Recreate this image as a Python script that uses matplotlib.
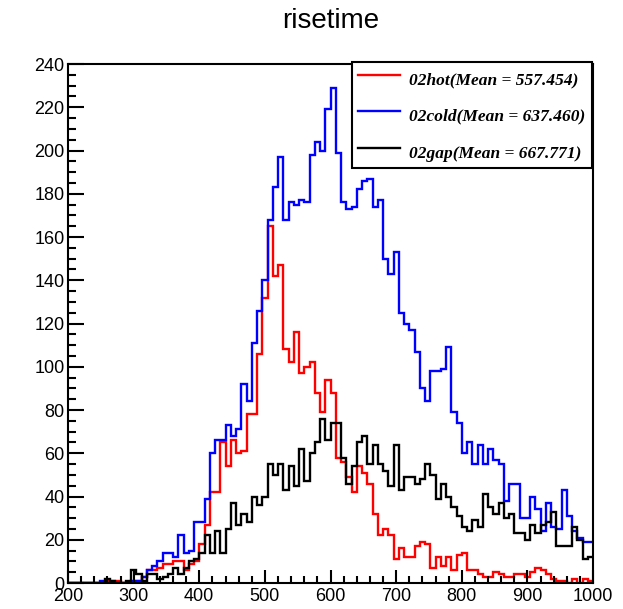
import numpy as np
import matplotlib
matplotlib.use("Agg")
import matplotlib.pyplot as plt
from matplotlib.ticker import MultipleLocator

# risetime histograms: 100 bins from 200 to 1000
bin_low, bin_high, n_bins = 200, 1000, 100

hot_counts = [
    0, 0, 0, 0, 0, 0, 0, 1, 1, 1,
    0, 0, 1, 1, 3, 6, 6, 7, 9, 9,
    10, 10, 6, 9, 10, 18, 27, 42, 42, 65,
    54, 66, 60, 61, 78, 78, 106, 132, 165, 142,
    147, 108, 102, 116, 97, 100, 102, 88, 79, 94,
    88, 58, 56, 49, 42, 54, 51, 46, 32, 22,
    25, 22, 11, 16, 12, 12, 17, 19, 18, 7,
    12, 8, 12, 6, 13, 14, 6, 6, 4, 3,
    3, 5, 4, 3, 3, 4, 4, 3, 5, 7,
    6, 4, 2, 1, 1, 0, 2, 0, 2, 1,
]

cold_counts = [
    0, 0, 0, 0, 0, 0, 1, 0, 0, 0,
    0, 0, 1, 1, 3, 6, 8, 10, 14, 14,
    12, 22, 14, 15, 28, 28, 39, 60, 66, 66,
    73, 68, 71, 92, 84, 111, 126, 140, 168, 183,
    197, 168, 176, 175, 177, 176, 198, 204, 200, 219,
    229, 199, 176, 173, 174, 182, 186, 187, 174, 177,
    150, 143, 153, 125, 120, 117, 107, 90, 84, 98,
    98, 99, 109, 79, 74, 60, 65, 55, 64, 55,
    62, 57, 55, 38, 46, 46, 30, 30, 40, 34,
    24, 37, 26, 25, 43, 31, 24, 21, 19, 19,
]

gap_counts = [
    0, 0, 0, 0, 0, 0, 0, 2, 1, 0,
    0, 1, 6, 4, 1, 4, 4, 2, 3, 4,
    7, 4, 7, 10, 11, 14, 22, 14, 24, 14,
    25, 37, 27, 32, 28, 40, 36, 40, 55, 50,
    55, 43, 54, 45, 62, 47, 60, 65, 76, 66,
    74, 74, 58, 46, 54, 65, 68, 55, 64, 55,
    52, 45, 64, 43, 49, 49, 46, 48, 55, 50,
    39, 46, 40, 35, 31, 26, 24, 29, 26, 41,
    35, 32, 37, 30, 32, 23, 23, 20, 27, 23,
    27, 28, 33, 17, 17, 17, 26, 20, 11, 12,
]

series_names = ["02hot", "02cold", "02gap"]
series_means = [557.454, 637.460, 667.771]
series_colors = ["#ff0000", "#0000ff", "#000000"]

x_ticks = [200, 300, 400, 500, 600, 700, 800, 900, 1000]
y_ticks = [0, 20, 40, 60, 80, 100, 120, 140, 160, 180, 200, 220, 240]

edges = np.linspace(bin_low, bin_high, n_bins + 1)

W, H, DPI = 623, 609, 100
fig = plt.figure(figsize=(W / DPI, H / DPI), dpi=DPI)
fig.patch.set_facecolor("white")

ax_l, ax_r, ax_t, ax_b = 68, 593, 64, 583
ax = fig.add_axes([ax_l / W, 1 - ax_b / H, (ax_r - ax_l) / W, (ax_b - ax_t) / H])

for counts, name, mean, color in zip(
        [hot_counts, cold_counts, gap_counts], series_names, series_means, series_colors):
    ax.stairs(counts, edges, baseline=None, color=color, linewidth=1.7,
              label=f"{name}(Mean = {mean:.3f})")

ax.set_xlim(bin_low, bin_high)
ax.set_ylim(0, 240)
ax.set_xticks(x_ticks)
ax.set_yticks(y_ticks)
ax.xaxis.set_minor_locator(MultipleLocator(20))
ax.yaxis.set_minor_locator(MultipleLocator(5))

tick_font = {"family": "Liberation Sans", "size": 13}
ax.set_xticklabels([str(v) for v in x_ticks], fontdict=tick_font)
ax.set_yticklabels([str(v) for v in y_ticks], fontdict=tick_font)

ax.tick_params(axis="both", which="both", direction="in", top=False, right=False,
               width=1.5, colors="black")
ax.tick_params(axis="y", which="major", length=11.5, pad=2.5)
ax.tick_params(axis="y", which="minor", length=6)
ax.tick_params(axis="x", which="major", length=9.5, pad=3.5)
ax.tick_params(axis="x", which="minor", length=5)

for sp in ax.spines.values():
    sp.set_linewidth(1.5)
    sp.set_color("black")

fig.text(330.5 / W, 1 - 28 / H, "risetime", ha="center", va="baseline",
         family="Liberation Sans", fontsize=20)

leg = ax.legend(loc="upper right", bbox_to_anchor=(592 / W, 1 - 62 / H),
                bbox_transform=fig.transFigure, borderaxespad=0,
                prop={"family": "Liberation Serif", "weight": "bold",
                      "style": "italic", "size": 12.5},
                handlelength=2.4, handleheight=1.3, handletextpad=0.5,
                labelspacing=1.0, borderpad=0.4,
                fancybox=False, shadow=False, framealpha=1)
frame = leg.get_frame()
frame.set_edgecolor("black")
frame.set_linewidth(1.5)
for line in leg.get_lines():
    line.set_linewidth(1.7)

fig.savefig("out.png", dpi=DPI, facecolor="white")
